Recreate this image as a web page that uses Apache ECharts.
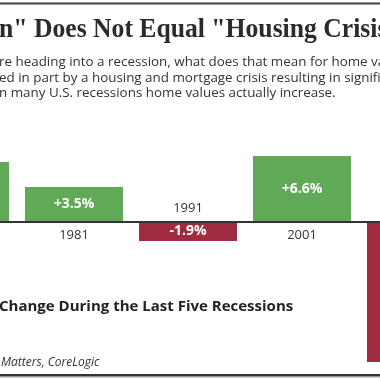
<!DOCTYPE html>
<html>
<head>
<meta charset="utf-8">
<script src="https://cdn.jsdelivr.net/npm/echarts@6/dist/echarts.min.js"></script>
<style>
html,body{margin:0;padding:0;background:#fff;}
#chart{width:380px;height:380px;}
</style>
</head>
<body>
<div id="chart"></div>
<script>
// Data
var years = ['1980', '1981', '1991', '2001', '2008'];
var changes = [6.0, 3.5, -1.9, 6.6, -14.0];
var titleText = 'n" Does Not Equal "Housing Crisis"';
var subtitleLines = [
  're heading into a recession, what does that mean for home values?',
  'ed in part by a housing and mortgage crisis resulting in significant',
  'n many U.S. recessions home values actually increase.'
];
var chartHeading = 'Change During the Last Five Recessions';
var sourceText = 'Matters, CoreLogic';

var GREEN = '#5FA957';
var RED = '#A12B40';
var sans = '"Open Sans", "Noto Sans", sans-serif';

function fmt(v) { return (v > 0 ? '+' : '') + v.toFixed(1) + '%'; }

var valueData = changes.map(function (v, i) {
  return { value: [i, v], itemStyle: { color: v >= 0 ? GREEN : RED } };
});
var yearData = changes.map(function (v, i) {
  return {
    value: [i, v],
    label: { position: v >= 0 ? 'bottom' : 'top', formatter: years[i] }
  };
});

var graphics = [
  { type: 'rect', shape: { x: 0, y: 2, width: 380, height: 1 }, style: { fill: '#999' }, silent: true },
  { type: 'rect', shape: { x: 0, y: 3, width: 380, height: 1.5 }, style: { fill: '#444' }, silent: true },
  { type: 'rect', shape: { x: 0, y: 374, width: 380, height: 2.5 }, style: { fill: '#333' }, silent: true },
  { type: 'rect', shape: { x: 0, y: 376.5, width: 380, height: 1 }, style: { fill: '#999' }, silent: true },
  { type: 'text', x: -1, y: 17, scaleX: 0.95, style: { text: titleText, font: 'bold 27px "Liberation Serif", serif', fill: '#2b2b2b' } },
  { type: 'text', x: -1, y: 299, style: { text: chartHeading, font: 'bold 15px ' + sans, fill: '#222' } },
  { type: 'text', x: 1, y: 357, style: { text: sourceText, font: 'italic 12px ' + sans, fill: '#333' } }
];
subtitleLines.forEach(function (t, i) {
  graphics.push({ type: 'text', x: -1, y: 56 + i * 15.5, style: { text: t, font: '13.4px ' + sans, fill: '#333' } });
});

var chart = echarts.init(document.getElementById('chart'), null, { renderer: 'canvas' });
chart.setOption({
  backgroundColor: '#fff',
  animation: false,
  grid: { left: 0, right: 0, top: 152, bottom: 18 },
  xAxis: {
    type: 'value',
    min: 1 - 74 / 114,
    max: 1 + 306 / 114,
    axisLine: { show: true, onZero: true, lineStyle: { color: '#333', width: 2 } },
    axisTick: { show: false },
    axisLabel: { show: false },
    splitLine: { show: false },
    z: 10
  },
  yAxis: {
    type: 'value',
    min: -14, max: 7,
    show: false,
    splitLine: { show: false }
  },
  series: [
    {
      type: 'bar',
      data: valueData,
      barWidth: 98,
      label: {
        show: true,
        position: 'inside',
        formatter: function (p) { return fmt(p.value[1]); },
        color: '#fff',
        fontFamily: sans,
        fontWeight: 'bold',
        fontSize: 14
      }
    },
    {
      type: 'bar',
      data: yearData,
      barWidth: 98,
      barGap: '-100%',
      silent: true,
      itemStyle: { color: 'rgba(0,0,0,0)' },
      label: {
        show: true,
        distance: 7,
        color: '#333',
        fontFamily: sans,
        fontSize: 13
      }
    }
  ],
  graphic: graphics
});
</script>
</body>
</html>
